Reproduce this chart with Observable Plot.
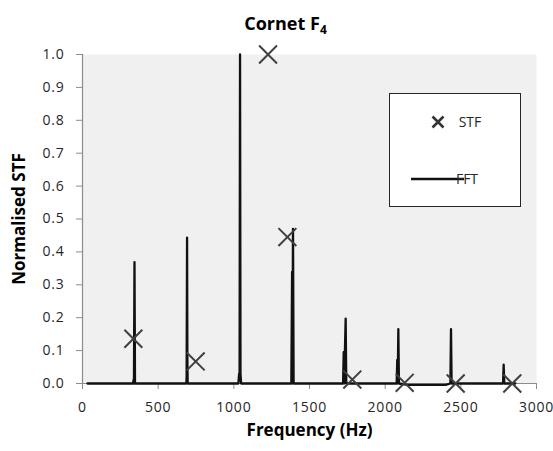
<!DOCTYPE html>
<html><head><meta charset="utf-8">
<script src="https://cdn.jsdelivr.net/npm/d3@7"></script>
<script src="https://cdn.jsdelivr.net/npm/@observablehq/plot@0.6"></script>
<style>body{margin:0;background:#fff} svg{display:block}</style>
</head><body><div id="chart"></div>
<script>
// FFT spectrum (frequency in Hz, normalised amplitude)
const fftFreq = [33, 334, 338, 340, 343.5, 347, 350, 686, 688, 691, 693, 695, 1030, 1035, 1038, 1041, 1044, 1048, 1380, 1385, 1387, 1391, 1395, 1722, 1726, 1729, 1739, 1743, 2076, 2080, 2083, 2087, 2091, 2150, 2400, 2431, 2435, 2439, 2779, 2783, 2787, 2860];
const fftAmp  = [0, 0, 0.012, 0, 0.369, 0, 0, 0, 0.02, 0.443, 0.08, 0, 0, 0.03, 0.03, 1.0, 0.03, 0, 0, 0.339, 0, 0.47, 0, 0, 0.095, 0, 0.197, 0, 0, 0.072, 0, 0.165, 0, -0.004, -0.004, 0, 0.165, 0, 0, 0.057, 0, 0];
// STF values
const stfFreq  = [336, 748, 1226, 1354, 1783, 2129, 2466, 2840];
const stfValue = [0.136, 0.067, 1.0, 0.445, 0.012, 0.002, 0.0, 0.0];
// axes
const xTicks = [0, 500, 1000, 1500, 2000, 2500, 3000];
const yTicks = [0, 0.1, 0.2, 0.3, 0.4, 0.5, 0.6, 0.7, 0.8, 0.9, 1.0];
const titleMain = "Cornet F";
const titleSub = "4";
const xLabel = "Frequency (Hz)";
const yLabel = "Normalised STF";
const legendLabels = ["STF", "FFT"];

const fft = fftFreq.map((f, i) => ({f, a: fftAmp[i]}));
const stf = stfFreq.map((f, i) => ({f, v: stfValue[i]}));

const font = "'Open Sans', 'DejaVu Sans', sans-serif";
const plot = Plot.plot({
  width: 553, height: 451,
  marginLeft: 82, marginRight: 17, marginTop: 54, marginBottom: 68,
  style: {fontFamily: font, background: "#fff", color: "#262626"},
  x: {domain: [0, 3000]},
  y: {domain: [0, 1]},
  marks: [
    Plot.frame({fill: "#f0f0f0", stroke: null}),
    Plot.ruleX([0], {stroke: "#8c8c8c", strokeWidth: 1.2}),
    Plot.ruleY([0], {stroke: "#8c8c8c", strokeWidth: 1.2}),
    Plot.axisX({ticks: xTicks, tickSize: 6, tickPadding: 13, stroke: "#8c8c8c", tickFormat: d => String(d), fontSize: 14, fill: "#262626", label: null}),
    Plot.axisY({ticks: yTicks, tickSize: 6, tickPadding: 12, stroke: "#8c8c8c", tickFormat: d3.format(".1f"), fontSize: 14, fill: "#262626", label: null}),
    Plot.line(fft, {x: "f", y: "a", stroke: "#111", strokeWidth: 2.3}),
    Plot.dot(stf, {x: "f", y: "v", symbol: "times", r: 8.2, stroke: "#404040", strokeWidth: 2}),
    Plot.text([xLabel], {frameAnchor: "bottom", lineAnchor: "middle", dy: 47, fontWeight: "bold", fontSize: 17, fill: "#000"}),
    Plot.text([yLabel], {frameAnchor: "left", textAnchor: "middle", lineAnchor: "middle", dx: -63, rotate: -90, fontWeight: "bold", fontSize: 17, fill: "#000"}),
    Plot.text([titleMain], {frameAnchor: "top", lineAnchor: "middle", dx: -24, dy: -30, fontWeight: "bold", fontSize: 18, fill: "#000"})
  ]
});
document.getElementById("chart").appendChild(plot);

const svg = d3.select(plot);
// subscript in title
svg.selectAll("text").filter(function() { return this.textContent === titleMain; })
  .each(function() {
    d3.select(this).append("tspan").attr("dy", "0.3em").attr("font-size", 12).text(titleSub);
  });
// tick label spacing
svg.selectAll("g[aria-label='x-axis tick label'] text, g[aria-label='y-axis tick label'] text").attr("letter-spacing", 0.8);

// legend
const lg = svg.append("g").attr("font-family", font).attr("font-size", 14).attr("fill", "#262626");
lg.append("rect").attr("x", 389.5).attr("y", 93.5).attr("width", 131).attr("height", 113).attr("fill", "#fff").attr("stroke", "#262626");
lg.append("path").attr("d", "M432.5,116.5L443.5,127.5M443.5,116.5L432.5,127.5").attr("stroke", "#333").attr("stroke-width", 2.6);
lg.append("text").attr("x", 470).attr("y", 122).attr("dy", "0.35em").text(legendLabels[0]);
lg.append("line").attr("x1", 411).attr("x2", 464).attr("y1", 179).attr("y2", 179).attr("stroke", "#111").attr("stroke-width", 2.4);
lg.append("text").attr("x", 467).attr("y", 179).attr("dy", "0.35em").text(legendLabels[1]);
</script>
</body></html>
